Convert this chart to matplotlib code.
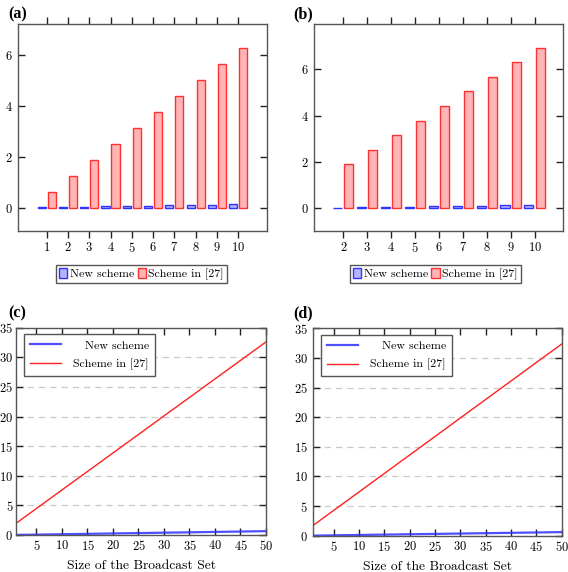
import numpy as np
import matplotlib
matplotlib.use("Agg")
import matplotlib.pyplot as plt

# data
n_a = [1, 2, 3, 4, 5, 6, 7, 8, 9, 10]
new_a = [0.01, 0.03, 0.04, 0.05, 0.07, 0.08, 0.09, 0.11, 0.12, 0.14]
old_a = [0.63, 1.26, 1.88, 2.52, 3.15, 3.78, 4.41, 5.04, 5.67, 6.30]

n_b = [2, 3, 4, 5, 6, 7, 8, 9, 10]
new_b = [0.03, 0.05, 0.06, 0.07, 0.08, 0.10, 0.11, 0.12, 0.15]
old_b = [1.90, 2.52, 3.16, 3.78, 4.41, 5.05, 5.68, 6.30, 6.93]

size_c = [1, 5, 10, 15, 20, 25, 30, 35, 40, 45, 50]
new_c = [0.01, 0.06, 0.13, 0.19, 0.26, 0.32, 0.39, 0.45, 0.52, 0.58, 0.65]
old_c = [1.97, 4.47, 7.60, 10.72, 13.85, 16.97, 20.10, 23.22, 26.35, 29.47, 32.60]

size_d = [1, 5, 10, 15, 20, 25, 30, 35, 40, 45, 50]
new_d = [0.01, 0.06, 0.12, 0.18, 0.24, 0.30, 0.36, 0.42, 0.48, 0.54, 0.60]
old_d = [1.75, 4.25, 7.37, 10.49, 13.61, 16.73, 19.86, 22.98, 26.10, 29.22, 32.34]

labels = ["New scheme", "Scheme in [27]"]

plt.rcParams['font.family'] = ['cmr10', 'DejaVu Serif']
plt.rcParams['mathtext.fontset'] = 'cm'
plt.rcParams['axes.formatter.use_mathtext'] = True
plt.rcParams['font.size'] = 9

spine_col = '#555555'
red_edge = '#ff3030'
red_fill = '#ffb5b5'
blue_edge = '#3030ff'
blue_fill = '#b5b5ff'

fig = plt.figure(figsize=(5.68, 5.72), dpi=100)


def style_spines(ax):
    for s in ax.spines.values():
        s.set_color(spine_col)
        s.set_linewidth(1.0)


def bar_panel(rect, n, new, old, ylim, xlim, leg_x):
    ax = fig.add_axes(rect)
    x = np.array(n)
    w = 0.38
    ax.bar(x - 0.24, new, w, color=blue_fill, edgecolor=blue_edge, linewidth=1.0, label=labels[0])
    ax.bar(x + 0.23, old, w, color=red_fill, edgecolor=red_edge, linewidth=1.0, label=labels[1])
    ax.set_xlim(xlim)
    ax.set_ylim(ylim)
    ax.set_xticks(n)
    ax.set_yticks([0, 2, 4, 6])
    ax.tick_params(axis='x', direction='out', top=True, bottom=True, length=5,
                   width=1, color='#222222', pad=2)
    ax.tick_params(axis='y', direction='in', left=True, right=True, length=5,
                   width=1, color='#222222', pad=4)
    style_spines(ax)
    fig.legend(*ax.get_legend_handles_labels(), loc='upper center',
               bbox_to_anchor=(leg_x, 0.5465), ncol=2, fancybox=False,
               edgecolor=spine_col, framealpha=1, handlelength=0.7,
               handleheight=0.9, handletextpad=0.2, columnspacing=0.3,
               borderpad=0.25, fontsize=8.6).get_frame().set_linewidth(1.0)
    return ax


def line_panel(rect, size, new, old, ypad):
    ax = fig.add_axes(rect)
    ax.plot(size, old, color='#ff2020', linewidth=1.0, label=labels[1])
    ax.plot(size, new, color='#3030ff', linewidth=1.6, alpha=0.85, label=labels[0])
    ax.set_xlim(1, 50)
    ax.set_ylim(0, 35)
    ax.set_xticks(range(5, 51, 5))
    ax.set_yticks(range(0, 36, 5))
    for g in range(5, 35, 5):
        ax.axhline(g, color='#c8c8c8', linestyle=(0, (5, 4)), linewidth=0.9, zorder=0)
    ax.tick_params(direction='in', top=True, right=True, length=5, width=1,
                   color='#222222')
    ax.tick_params(axis='x', pad=3)
    ax.tick_params(axis='y', pad=ypad)
    style_spines(ax)
    ax.set_xlabel("Size of the Broadcast Set", fontsize=9.7, labelpad=5)
    h, l = ax.get_legend_handles_labels()
    leg = ax.legend([h[1], h[0]], ["   " + labels[0], labels[1]], loc='upper left',
                    bbox_to_anchor=(0.032, 0.968), borderaxespad=0, fancybox=False,
                    edgecolor=spine_col, framealpha=1, fontsize=8.6,
                    handlelength=2.6, handletextpad=1.0, borderpad=0.5,
                    labelspacing=0.65)
    leg.get_frame().set_linewidth(1.0)
    return ax


bar_panel([0.0317, 0.5962, 0.4384, 0.3619], n_a, new_a, old_a, (-0.92, 7.23), (-0.35, 11.35), 0.249)
bar_panel([0.5528, 0.5962, 0.4389, 0.3619], n_b, new_b, old_b, (-0.98, 7.95), (0.77, 11.2), 0.7664)
line_panel([0.0282, 0.0647, 0.4401, 0.3624], size_c, new_c, old_c, 2)
line_panel([0.5516, 0.0635, 0.4373, 0.3626], size_d, new_d, old_d, 4)

for txt, x, y in [("(a)", 0.014, 0.975), ("(b)", 0.516, 0.975),
                  ("(c)", 0.014, 0.452), ("(d)", 0.516, 0.452)]:
    fig.text(x, y, txt, family='Liberation Serif', fontweight='bold',
             fontsize=11.5, ha='left', va='center')

fig.savefig("out.png", dpi=100)
